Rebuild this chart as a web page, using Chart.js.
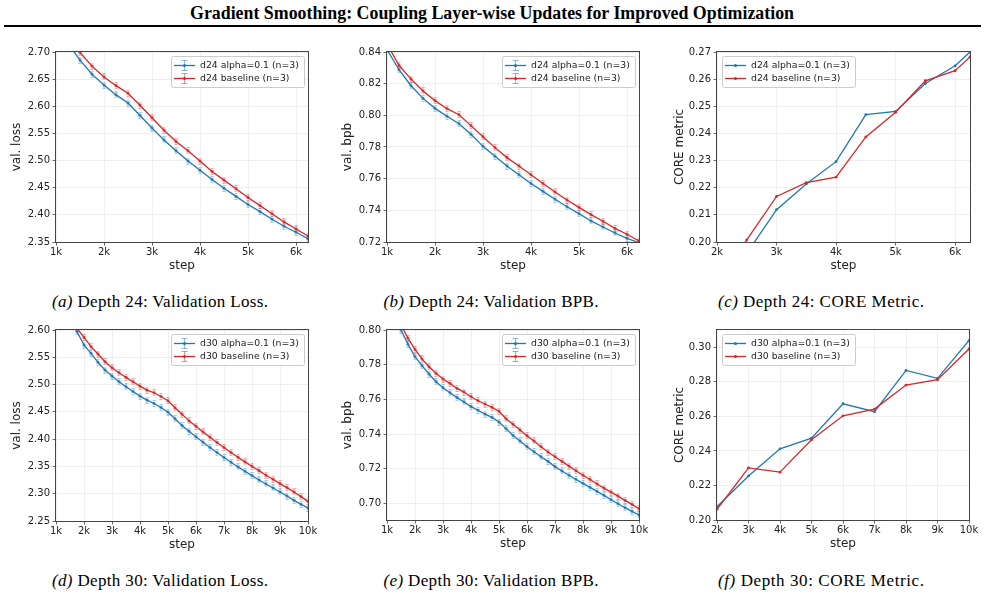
<!DOCTYPE html>
<html>
<head>
<meta charset="utf-8">
<script src="https://cdn.jsdelivr.net/npm/chart.js@4.4.1/dist/chart.umd.min.js"></script>
<style>
html,body{margin:0;padding:0;background:#fff;}
#page{position:relative;width:985px;height:599px;overflow:hidden;}
#page canvas{position:absolute;}
#page svg{position:absolute;left:0;top:0;}
</style>
</head>
<body>
<div id="page">
<svg width="985" height="599" font-family="'Liberation Serif', 'Times New Roman', serif">
<text x="492" y="18.5" text-anchor="middle" font-weight="bold" font-size="18" textLength="604" lengthAdjust="spacingAndGlyphs">Gradient Smoothing: Coupling Layer-wise Updates for Improved Optimization</text>
<rect x="4" y="25" width="977" height="2" fill="#000"/>
<g font-size="17" text-anchor="middle">
<text x="160" y="307" textLength="216" lengthAdjust="spacing"><tspan font-style="italic">(a)</tspan> Depth 24: Validation Loss.</text>
<text x="491" y="307" textLength="215" lengthAdjust="spacing"><tspan font-style="italic">(b)</tspan> Depth 24: Validation BPB.</text>
<text x="821" y="307" textLength="206" lengthAdjust="spacing"><tspan font-style="italic">(c)</tspan> Depth 24: CORE Metric.</text>
<text x="160" y="586" textLength="216" lengthAdjust="spacing"><tspan font-style="italic">(d)</tspan> Depth 30: Validation Loss.</text>
<text x="491" y="586" textLength="215" lengthAdjust="spacing"><tspan font-style="italic">(e)</tspan> Depth 30: Validation BPB.</text>
<text x="821" y="586" textLength="206" lengthAdjust="spacing"><tspan font-style="italic">(f)</tspan> Depth 30: CORE Metric.</text>
</g>
</svg>
</div>
<script>
// depth 24 runs, eval every 250 steps
const stepsD24 = [1000,1250,1500,1750,2000,2250,2500,2750,3000,3250,3500,3750,4000,4250,4500,4750,5000,5250,5500,5750,6000,6250];
const lossD24Alpha = [2.760,2.716,2.685,2.659,2.639,2.621,2.606,2.583,2.560,2.538,2.518,2.499,2.482,2.465,2.449,2.434,2.419,2.406,2.392,2.379,2.368,2.356];
const lossD24Base  = [2.780,2.735,2.699,2.674,2.654,2.638,2.624,2.602,2.579,2.556,2.535,2.518,2.499,2.480,2.464,2.448,2.432,2.417,2.402,2.387,2.374,2.361];
const bpbD24Alpha  = [0.8415,0.8288,0.8187,0.8107,0.8044,0.7994,0.7947,0.7880,0.7804,0.7741,0.7680,0.7625,0.7569,0.7520,0.7470,0.7423,0.7379,0.7333,0.7295,0.7257,0.7223,0.7196];
const bpbD24Base   = [0.8450,0.8316,0.8229,0.8154,0.8093,0.8042,0.8004,0.7935,0.7865,0.7796,0.7733,0.7680,0.7625,0.7569,0.7516,0.7465,0.7419,0.7373,0.7331,0.7286,0.7249,0.7206];
const stepsCoreD24 = [2000,2500,3000,3500,4000,4500,5000,5500,6000,6250];
const coreD24Alpha = [0.180,0.1958,0.2119,0.2214,0.2296,0.2469,0.2481,0.2584,0.2649,0.2700];
const coreD24Base  = [0.185,0.2008,0.2168,0.2219,0.2239,0.2387,0.2478,0.2594,0.2631,0.2682];

// depth 30 runs
const stepsD30 = [1500,1750,2000,2250,2500,2750,3000,3250,3500,3750,4000,4250,4500,4750,5000,5250,5500,5750,6000,6250,6500,6750,7000,7250,7500,7750,8000,8250,8500,8750,9000,9250,9500,9750,10000];
const lossD30Alpha = [2.620,2.597,2.5725,2.5572,2.5406,2.5266,2.5155,2.5051,2.4960,2.4874,2.4788,2.4715,2.4654,2.4580,2.4494,2.4372,2.4249,2.4146,2.4042,2.3944,2.3846,2.3754,2.3662,2.3577,2.3491,2.3411,2.3332,2.3252,2.3179,2.3105,2.3032,2.2958,2.2879,2.2805,2.2738];
const lossD30Base  = [2.635,2.603,2.5865,2.5694,2.5560,2.5419,2.5308,2.5217,2.5131,2.5051,2.4972,2.4898,2.4850,2.4782,2.4703,2.4574,2.4458,2.4335,2.4237,2.4133,2.4035,2.3938,2.3846,2.3754,2.3668,2.3583,2.3503,2.3423,2.3338,2.3264,2.3185,2.3111,2.3032,2.2946,2.2860];
const bpbD30Alpha  = [0.8000,0.7917,0.7846,0.7794,0.7746,0.7702,0.7667,0.7638,0.7610,0.7585,0.7558,0.7537,0.7515,0.7496,0.7469,0.7431,0.7392,0.7360,0.7327,0.7298,0.7269,0.7242,0.7212,0.7187,0.7162,0.7138,0.7115,0.7092,0.7069,0.7046,0.7021,0.6998,0.6975,0.6954,0.6933];
const bpbD30Base   = [0.8030,0.7952,0.7888,0.7833,0.7788,0.7750,0.7717,0.7692,0.7663,0.7642,0.7615,0.7592,0.7573,0.7554,0.7531,0.7488,0.7456,0.7423,0.7390,0.7360,0.7327,0.7296,0.7269,0.7242,0.7215,0.7188,0.7162,0.7138,0.7112,0.7088,0.7065,0.7042,0.7017,0.6994,0.6969];
const stepsCoreD30 = [2000,3000,4000,5000,6000,7000,8000,9000,10000];
const coreD30Alpha = [0.2077,0.2255,0.2412,0.2474,0.2673,0.2627,0.2866,0.2820,0.3039];
const coreD30Base  = [0.2062,0.2302,0.2277,0.2464,0.2603,0.2642,0.2781,0.2812,0.2990];

// tick labels
const xTicks24 = [1000,2000,3000,4000,5000,6000];
const xTicksCore24 = [2000,3000,4000,5000,6000];
const xTicks30 = [1000,2000,3000,4000,5000,6000,7000,8000,9000,10000];
const xTicksCore30 = [2000,3000,4000,5000,6000,7000,8000,9000,10000];
const yTicksLoss24 = [2.35,2.40,2.45,2.50,2.55,2.60,2.65,2.70];
const yTicksBpb24 = [0.72,0.74,0.76,0.78,0.80,0.82,0.84];
const yTicksCore24 = [0.20,0.21,0.22,0.23,0.24,0.25,0.26,0.27];
const yTicksLoss30 = [2.25,2.30,2.35,2.40,2.45,2.50,2.55,2.60];
const yTicksBpb30 = [0.70,0.72,0.74,0.76,0.78,0.80];
const yTicksCore30 = [0.20,0.22,0.24,0.26,0.28,0.30];

const BLUE = '#1f77b4';
const RED = '#d62728';
const FONT = "'DejaVu Sans', sans-serif";

// small errorbar glyph used as point marker
function errGlyph(color){
  const c = document.createElement('canvas');
  c.width = 5; c.height = 7;
  const g = c.getContext('2d');
  g.globalAlpha = 0.3;
  g.strokeStyle = color;
  g.lineWidth = 1;
  g.beginPath();
  g.moveTo(2.5,0); g.lineTo(2.5,7);
  g.moveTo(0.5,0.5); g.lineTo(4.5,0.5);
  g.moveTo(0.5,6.5); g.lineTo(4.5,6.5);
  g.stroke();
  g.globalAlpha = 1;
  g.fillStyle = color;
  g.beginPath(); g.arc(2.5,3.5,1.4,0,Math.PI*2); g.fill();
  return c;
}

// frame + legend inside the axes
const axesDecor = {
  id: 'axesDecor',
  afterDraw(chart){
    const o = chart.options.plugins.axesDecor;
    const ctx = chart.ctx, ca = chart.chartArea;
    ctx.save();
    ctx.strokeStyle = '#444';
    ctx.lineWidth = 1;
    ctx.strokeRect(ca.left-0.5, ca.top-0.5, ca.right-ca.left+1, ca.bottom-ca.top+1);

    ctx.font = '9.3px ' + FONT;
    const items = chart.data.datasets.map(d=>({label:d.label, color:d.borderColor}));
    const tw = Math.max(...items.map(it=>ctx.measureText(it.label).width));
    const w = Math.round(29 + tw + 5), h = 31;
    const x = o.corner === 'ul' ? ca.left + 5 : ca.right - 4 - w;
    const y = ca.top + 4;
    ctx.fillStyle = 'rgba(255,255,255,0.85)';
    ctx.strokeStyle = '#cccccc';
    ctx.beginPath();
    ctx.roundRect(x+0.5, y+0.5, w, h, 2);
    ctx.fill(); ctx.stroke();

    items.forEach((it,i)=>{
      const ry = y + 9.5 + i*13;
      ctx.strokeStyle = it.color;
      ctx.lineWidth = 1.3;
      ctx.beginPath(); ctx.moveTo(x+3, ry); ctx.lineTo(x+24, ry); ctx.stroke();
      const mx = x + 13.5;
      if(o.errbar){
        ctx.globalAlpha = 0.5;
        ctx.lineWidth = 1;
        ctx.beginPath();
        ctx.moveTo(mx, ry-5); ctx.lineTo(mx, ry+5);
        ctx.moveTo(mx-3, ry-5); ctx.lineTo(mx+3, ry-5);
        ctx.moveTo(mx-3, ry+5); ctx.lineTo(mx+3, ry+5);
        ctx.stroke();
        ctx.globalAlpha = 1;
      }
      ctx.fillStyle = it.color;
      ctx.beginPath(); ctx.arc(mx, ry, 1.5, 0, Math.PI*2); ctx.fill();
      ctx.fillStyle = '#222';
      ctx.textBaseline = 'middle';
      ctx.fillText(it.label, x+29, ry+0.5);
    });
    ctx.restore();
  }
};

function makePanel(p){
  const [L,T,R,B] = p.rect;
  const padL = 56, padT = 12, padR = 14, padB = 31;
  const cv = document.createElement('canvas');
  cv.width = (R-L) + padL + padR;
  cv.height = (B-T) + padT + padB;
  cv.style.left = (L-padL) + 'px';
  cv.style.top = (T-padT) + 'px';
  document.getElementById('page').appendChild(cv);

  const ds = (label, data, color, order)=>({
    label: label,
    data: p.steps.map((s,i)=>({x:s, y:data[i]})),
    borderColor: color,
    backgroundColor: color,
    borderWidth: 1.3,
    pointStyle: p.errbar ? errGlyph(color) : 'circle',
    pointRadius: p.errbar ? 2 : 1.4,
    pointBorderWidth: 0,
    tension: 0,
    order: order
  });

  new Chart(cv, {
    type: 'line',
    data: {
      datasets: [
        ds(p.tag + ' alpha=0.1 (n=3)', p.alpha, BLUE, 1),
        ds(p.tag + ' baseline (n=3)', p.base, RED, 0)
      ]
    },
    options: {
      responsive: false,
      animation: false,
      devicePixelRatio: 1,
      layout: {padding: {left:0, top:padT, right:padR, bottom:0}},
      plugins: {
        legend: {display:false},
        tooltip: {enabled:false},
        axesDecor: {corner: p.corner, errbar: p.errbar}
      },
      scales: {
        x: {
          type: 'linear',
          min: p.xmin, max: p.xmax,
          afterBuildTicks: s => { s.ticks = p.xticks.map(v=>({value:v})); },
          afterFit: s => { s.height = padB; },
          ticks: {
            autoSkip: false, maxRotation: 0, padding: 1,
            color: '#222', font: {family: FONT, size: 10},
            callback: v => (v/1000) + 'k'
          },
          grid: {color: '#ebebeb', lineWidth: 0.8, tickColor: '#444', tickLength: 3.5},
          border: {display: false},
          title: {display: true, text: 'step', color: '#222', font: {family: FONT, size: 12}, padding: {top:0, bottom:0}}
        },
        y: {
          type: 'linear',
          min: p.ymin, max: p.ymax,
          afterBuildTicks: s => { s.ticks = p.yticks.map(v=>({value:v})); },
          afterFit: s => { s.width = padL; },
          ticks: {
            autoSkip: false, padding: 2.5,
            color: '#222', font: {family: FONT, size: 10},
            callback: v => v.toFixed(2)
          },
          grid: {color: '#ebebeb', lineWidth: 0.8, tickColor: '#444', tickLength: 3.5},
          border: {display: false},
          title: {display: true, text: p.ylabel, color: '#222', font: {family: FONT, size: 12}, padding: {top: p.ytitlePad, bottom: 0}}
        }
      }
    },
    plugins: [axesDecor]
  });
}

makePanel({rect:[56,52,308,242], tag:'d24', steps:stepsD24, alpha:lossD24Alpha, base:lossD24Base,
  xmin:1000, xmax:6250, xticks:xTicks24, ymin:2.35, ymax:2.70, yticks:yTicksLoss24,
  ylabel:'val. loss', ytitlePad:10, corner:'ur', errbar:true});
makePanel({rect:[387,52,639,242], tag:'d24', steps:stepsD24, alpha:bpbD24Alpha, base:bpbD24Base,
  xmin:1000, xmax:6250, xticks:xTicks24, ymin:0.72, ymax:0.84, yticks:yTicksBpb24,
  ylabel:'val. bpb', ytitlePad:9.5, corner:'ur', errbar:true});
makePanel({rect:[717,52,970,242], tag:'d24', steps:stepsCoreD24, alpha:coreD24Alpha, base:coreD24Base,
  xmin:2000, xmax:6250, xticks:xTicksCore24, ymin:0.20, ymax:0.27, yticks:yTicksCore24,
  ylabel:'CORE metric', ytitlePad:12, corner:'ul', errbar:false});
makePanel({rect:[56,330,308,521], tag:'d30', steps:stepsD30, alpha:lossD30Alpha, base:lossD30Base,
  xmin:1000, xmax:10000, xticks:xTicks30, ymin:2.25, ymax:2.60, yticks:yTicksLoss30,
  ylabel:'val. loss', ytitlePad:10, corner:'ur', errbar:true});
makePanel({rect:[387,330,639,520], tag:'d30', steps:stepsD30, alpha:bpbD30Alpha, base:bpbD30Base,
  xmin:1000, xmax:10000, xticks:xTicks30, ymin:0.6904, ymax:0.80, yticks:yTicksBpb30,
  ylabel:'val. bpb', ytitlePad:9.5, corner:'ur', errbar:true});
makePanel({rect:[717,330,969,520], tag:'d30', steps:stepsCoreD30, alpha:coreD30Alpha, base:coreD30Base,
  xmin:2000, xmax:10000, xticks:xTicksCore30, ymin:0.20, ymax:0.31, yticks:yTicksCore30,
  ylabel:'CORE metric', ytitlePad:12, corner:'ul', errbar:false});
</script>
</body>
</html>
